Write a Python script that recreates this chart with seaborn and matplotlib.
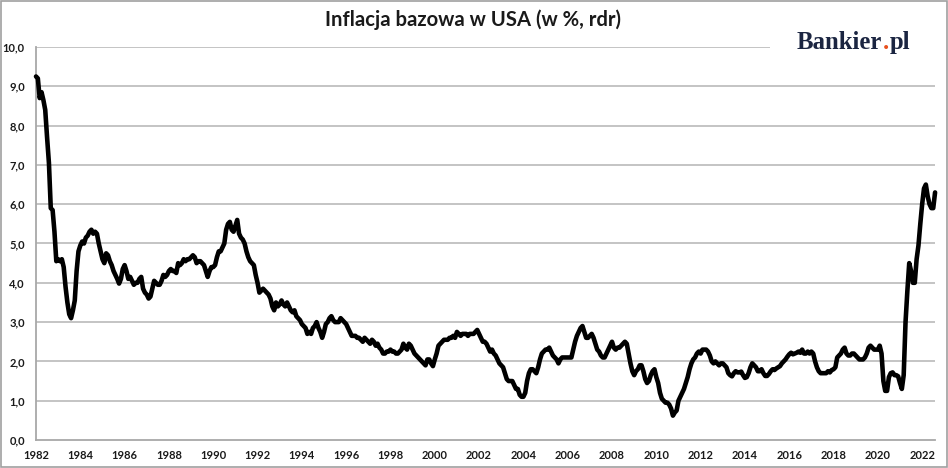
import numpy as np
import pandas as pd
import matplotlib
matplotlib.use("Agg")
import matplotlib.pyplot as plt
import seaborn as sns
from matplotlib.patches import Rectangle

# ---- data: US core CPI, y/y %, monthly from Jan 1982 ----
start_year = 1982
core_1982_1991 = [
    9.25, 9.2, 8.7, 8.85, 8.65, 8.4, 7.7, 7.05, 5.9, 5.85, 5.3, 4.55,
    4.6, 4.55, 4.6, 4.4, 3.9, 3.5, 3.2, 3.1, 3.3, 3.55, 4.3, 4.8,
    4.95, 5.05, 5.0, 5.15, 5.2, 5.3, 5.35, 5.25, 5.3, 5.25, 5.0, 4.8,
    4.6, 4.5, 4.75, 4.7, 4.55, 4.45, 4.3, 4.2, 4.1, 3.98, 4.1, 4.35,
    4.45, 4.3, 4.1, 4.15, 4.05, 3.95, 4.0, 4.0, 4.1, 4.15, 3.85, 3.75,
    3.7, 3.6, 3.65, 3.85, 4.05, 4.0, 3.95, 3.95, 4.05, 4.2, 4.15, 4.2,
    4.3, 4.35, 4.3, 4.3, 4.25, 4.5, 4.45, 4.5, 4.6, 4.55, 4.6, 4.6,
    4.65, 4.7, 4.65, 4.5, 4.55, 4.55, 4.5, 4.45, 4.3, 4.15, 4.3, 4.4,
    4.4, 4.45, 4.65, 4.8, 4.8, 4.9, 5.0, 5.35, 5.5, 5.55, 5.35, 5.3,
    5.45, 5.6, 5.25, 5.15, 5.1, 5.0, 4.8, 4.65, 4.55, 4.5, 4.45, 4.2,
]
core_1992_2001 = [
    4.0, 3.75, 3.8, 3.85, 3.8, 3.75, 3.7, 3.6, 3.4, 3.3, 3.5, 3.4,
    3.45, 3.55, 3.45, 3.4, 3.5, 3.4, 3.3, 3.25, 3.3, 3.15, 3.1, 3.05,
    2.95, 2.9, 2.85, 2.7, 2.75, 2.7, 2.85, 2.9, 3.0, 2.85, 2.75, 2.6,
    2.75, 2.95, 3.0, 3.1, 3.15, 3.05, 3.0, 3.0, 3.0, 3.1, 3.05, 3.0,
    2.95, 2.85, 2.75, 2.65, 2.65, 2.65, 2.6, 2.6, 2.55, 2.5, 2.6, 2.55,
    2.5, 2.45, 2.55, 2.5, 2.4, 2.45, 2.35, 2.3, 2.2, 2.2, 2.25, 2.25,
    2.3, 2.25, 2.25, 2.2, 2.2, 2.25, 2.3, 2.45, 2.35, 2.3, 2.45, 2.4,
    2.3, 2.2, 2.15, 2.1, 2.05, 2.0, 1.95, 1.9, 2.05, 2.05, 1.95, 1.88,
    2.05, 2.2, 2.4, 2.45, 2.5, 2.55, 2.55, 2.55, 2.6, 2.6, 2.65, 2.6,
    2.75, 2.7, 2.65, 2.7, 2.7, 2.7, 2.65, 2.7, 2.7, 2.7, 2.75, 2.8,
]
core_2002_2011 = [
    2.7, 2.6, 2.5, 2.5, 2.45, 2.35, 2.25, 2.3, 2.2, 2.15, 2.05, 1.95,
    1.9, 1.85, 1.7, 1.55, 1.5, 1.5, 1.5, 1.4, 1.3, 1.3, 1.15, 1.1,
    1.1, 1.2, 1.5, 1.7, 1.8, 1.8, 1.75, 1.7, 1.85, 2.05, 2.2, 2.25,
    2.3, 2.3, 2.35, 2.25, 2.15, 2.1, 2.05, 1.95, 2.05, 2.1, 2.1, 2.1,
    2.1, 2.1, 2.1, 2.3, 2.5, 2.65, 2.75, 2.85, 2.9, 2.75, 2.6, 2.6,
    2.65, 2.7, 2.6, 2.45, 2.3, 2.25, 2.15, 2.1, 2.1, 2.2, 2.3, 2.4,
    2.5, 2.35, 2.3, 2.35, 2.35, 2.4, 2.45, 2.5, 2.45, 2.2, 1.95, 1.75,
    1.65, 1.75, 1.8, 1.9, 1.9, 1.75, 1.55, 1.45, 1.5, 1.65, 1.75, 1.8,
    1.6, 1.45, 1.2, 1.05, 1.0, 0.95, 0.95, 0.9, 0.8, 0.62, 0.7, 0.75,
    1.0, 1.1, 1.2, 1.3, 1.45, 1.6, 1.8, 1.95, 2.05, 2.1, 2.2, 2.25,
]
core_2012_2022 = [
    2.2, 2.3, 2.3, 2.3, 2.25, 2.15, 2.0, 1.95, 2.0, 1.95, 1.9, 1.95,
    1.95, 1.9, 1.85, 1.7, 1.65, 1.62, 1.7, 1.75, 1.72, 1.72, 1.74, 1.65,
    1.58, 1.6, 1.7, 1.85, 1.95, 1.9, 1.85, 1.75, 1.75, 1.8, 1.7, 1.63,
    1.63, 1.68, 1.75, 1.8, 1.78, 1.82, 1.85, 1.88, 1.95, 2.0, 2.05, 2.12,
    2.18, 2.22, 2.18, 2.2, 2.22, 2.25, 2.22, 2.3, 2.2, 2.2, 2.25, 2.2,
    2.25, 2.2, 2.0, 1.85, 1.75, 1.7, 1.7, 1.7, 1.7, 1.75, 1.72, 1.78,
    1.8, 1.85, 2.1, 2.15, 2.2, 2.3, 2.35, 2.2, 2.15, 2.15, 2.2, 2.2,
    2.15, 2.1, 2.05, 2.05, 2.05, 2.1, 2.2, 2.35, 2.4, 2.35, 2.3, 2.3,
    2.3, 2.4, 2.2, 1.5, 1.25, 1.25, 1.6, 1.7, 1.72, 1.65, 1.65, 1.62,
    1.45, 1.3, 1.65, 3.0, 3.8, 4.5, 4.3, 4.0, 4.0, 4.6, 4.95, 5.5,
    6.0, 6.4, 6.5, 6.2, 6.0, 5.9, 5.9, 6.3,
]
y_ticks = [0, 1, 2, 3, 4, 5, 6, 7, 8, 9, 10]
x_tick_years = list(range(1982, 2023, 2))
title = "Inflacja bazowa w USA (w %, rdr)"
logo_parts = ["Bankier", ".", "pl"]

values = core_1982_1991 + core_1992_2001 + core_2002_2011 + core_2012_2022
dates = pd.date_range(f"{start_year}-01-01", periods=len(values), freq="MS")
df = pd.DataFrame({
    "rok": dates.year + (dates.month - 1) / 12.0,
    "inflacja": values,
})

sns.set_theme(style="white")
plt.rcParams["font.family"] = ["Lato", "DejaVu Sans"]

fig = plt.figure(figsize=(9.48, 4.68), dpi=100)
ax = fig.add_axes([36 / 948, 1 - 440 / 468, (935 - 36) / 948, (440 - 47) / 468])

grid_c = "#B4B4B4"
for yv in y_ticks[1:]:
    ax.axhline(yv, color=grid_c, lw=1.1, zorder=1)

sns.lineplot(data=df, x="rok", y="inflacja", ax=ax, color="black",
             linewidth=3.3, zorder=3, clip_on=False)

ax.set_xlim(1982, 2022.58)
ax.set_ylim(0, 10)
ax.set_yticks(y_ticks)
ax.set_yticklabels([f"{v:.1f}".replace(".", ",") for v in y_ticks])
ax.set_xticks(x_tick_years)
ax.set_xticklabels([str(v) for v in x_tick_years])
ax.set_xlabel("")
ax.set_ylabel("")

for side in ["top", "right"]:
    ax.spines[side].set_visible(False)
for side in ["left", "bottom"]:
    ax.spines[side].set_color("#A8A8A8")
    ax.spines[side].set_linewidth(1.3)

ax.tick_params(axis="both", which="major", direction="out", length=4,
               width=1.1, color="#A8A8A8", labelsize=8, pad=3)
ax.tick_params(axis="y", pad=4)
for lab in ax.get_xticklabels() + ax.get_yticklabels():
    lab.set_fontweight("bold")
    lab.set_color("#1A1A1A")

fig.text(473 / 948, 1 - 20 / 468, title, ha="center", va="center",
         fontsize=14.6, fontweight="bold", color="#1A1A1A")

# logo with white background covering the top gridline
fig.patches.append(Rectangle((770 / 948, 1 - 62 / 468), (936 - 770) / 948, 36 / 468,
                             transform=fig.transFigure, facecolor="white",
                             edgecolor="none", zorder=5))
navy = "#1B2541"
logo_font = ["Liberation Serif", "DejaVu Serif"]
kw = dict(ha="left", va="baseline", fontsize=17.8, fontweight="bold", family=logo_font)
fig.canvas.draw()
r = fig.canvas.get_renderer()


def text_extent(s, x):
    t = fig.text(x / 948, 0.5, s, **kw)
    e = t.get_window_extent(r)
    t.remove()
    return e


x0 = 797.0
base_y = 1 - 49 / 468
# place each part right after the measured extent of the previous one
e1 = text_extent(logo_parts[0], x0)
x_dot = e1.x1 + 0.5
e2 = text_extent(logo_parts[1], x_dot)
x_pl = e2.x1 + 0.5
positions = [x0, x_dot, x_pl]
colors = [navy, "#E8501E", navy]
for part, px, c in zip(logo_parts, positions, colors):
    fig.text(px / 948, base_y, part, color=c, zorder=6, **kw)

# outer frame
fig.patches.append(Rectangle((0.0008, 0.0015), 0.9984, 0.997, transform=fig.transFigure,
                             facecolor="none", edgecolor="#A0A0A0", linewidth=1.2, zorder=10))

fig.savefig("out.png", dpi=100)
